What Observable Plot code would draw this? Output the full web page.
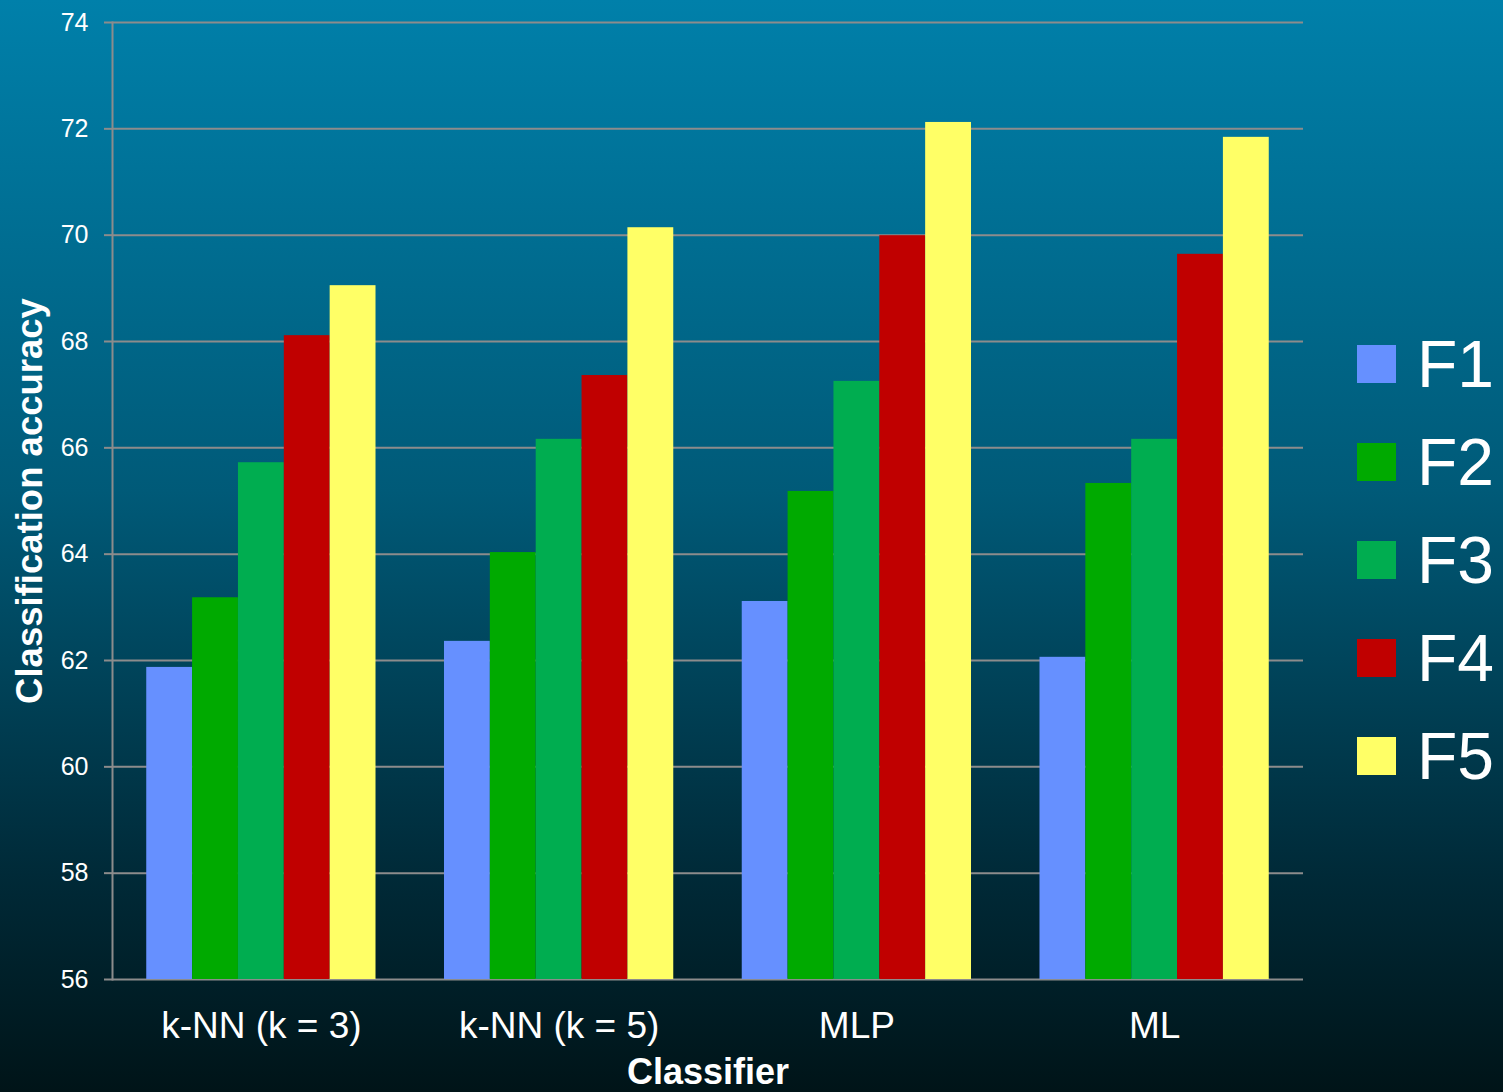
<!DOCTYPE html>
<html>
<head>
<meta charset="utf-8">
<script src="https://cdn.jsdelivr.net/npm/d3@7"></script>
<script src="https://cdn.jsdelivr.net/npm/@observablehq/plot@0.6"></script>
<style>
  html, body { margin: 0; padding: 0; }
  body { width: 1503px; height: 1092px; overflow: hidden;
         background: linear-gradient(to bottom, #0080aa 0%, #005a78 45%, #002a38 80%, #001418 100%);
         font-family: "Liberation Sans", Arial, sans-serif; }
  #wrap { position: relative; width: 1503px; height: 1092px; }
  #wrap svg { position: absolute; left: 0; top: 0; }
  #legend { position: absolute; left: 1357px; top: 315px; }
  .item { display: flex; align-items: center; height: 98px; margin-top: 0; }
  .sw { width: 39px; height: 38px; margin-right: 21px; }
  .lab { color: white; font-size: 66px; line-height: 1; }
</style>
</head>
<body>
<div id="wrap"></div>
<script>
const classifiers = ["k-NN (k = 3)", "k-NN (k = 5)", "MLP", "ML"];
const series = ["F1", "F2", "F3", "F4", "F5"];
const colors = ["#6690ff", "#00aa00", "#00ad50", "#c00000", "#ffff66"];
const F1 = [61.87, 62.36, 63.11, 62.06];
const F2 = [63.18, 64.03, 65.18, 65.33];
const F3 = [65.72, 66.16, 67.25, 66.16];
const F4 = [68.11, 67.36, 69.99, 69.64];
const F5 = [69.05, 70.14, 72.12, 71.84];
const yTicks = [56, 58, 60, 62, 64, 66, 68, 70, 72, 74];

const values = [F1, F2, F3, F4, F5];
const data = [];
classifiers.forEach((c, i) => series.forEach((s, j) => data.push({classifier: c, series: s, value: values[j][i]})));

const dims = {width: 1503, height: 1092, marginLeft: 112, marginRight: 200, marginTop: 22, marginBottom: 113};
const grid = "#8c8c8c";
const font = "'Liberation Sans', Arial, sans-serif";

const back = Plot.plot({
  ...dims,
  style: {background: "transparent", color: "white", fontFamily: font},
  x: {domain: classifiers, paddingInner: 0.23, paddingOuter: 0.115, round: false},
  y: {domain: [56, 74]},
  marks: [
    Plot.gridY(yTicks, {stroke: grid, strokeOpacity: 1, strokeWidth: 2}),
    Plot.axisY(yTicks, {tickSize: 8, tickPadding: 16, fontSize: 25, stroke: grid, strokeWidth: 2, label: null, fill: "white", tickFormat: d3.format("d")}),
    Plot.axisX({tickSize: 0, tickPadding: 32, fontSize: 37, label: null, fill: "white"}),
    Plot.frame({anchor: "left", stroke: grid, strokeWidth: 2}),
    Plot.text(["Classification accuracy"], {frameAnchor: "left", text: d => d, dx: -82, rotate: -90,
      textAnchor: "middle", fontSize: 36.5, fontWeight: "bold", fill: "white"}),
    Plot.text(["Classifier"], {frameAnchor: "bottom", text: d => d, dy: 104,
      fontSize: 36, fontWeight: "bold", fill: "white"})
  ]
});

const front = Plot.plot({
  ...dims,
  style: {background: "transparent", fontFamily: font},
  fx: {domain: classifiers, paddingInner: 0.23, paddingOuter: 0.115, round: false, axis: null, label: null},
  x: {domain: series, padding: 0, round: false, axis: null},
  y: {domain: [56, 74], axis: null},
  color: {domain: series, range: colors},
  marks: [
    Plot.barY(data, {fx: "classifier", x: "series", y1: 56, y2: "value", fill: "series"})
  ]
});

const wrap = document.getElementById("wrap");
wrap.appendChild(back);
wrap.appendChild(front);

const legend = document.createElement("div");
legend.id = "legend";
series.forEach((s, i) => {
  const it = document.createElement("div");
  it.className = "item";
  const sw = document.createElement("div");
  sw.className = "sw";
  sw.style.background = colors[i];
  const lab = document.createElement("div");
  lab.className = "lab";
  lab.textContent = s;
  it.appendChild(sw); it.appendChild(lab);
  legend.appendChild(it);
});
wrap.appendChild(legend);
</script>
</body>
</html>
